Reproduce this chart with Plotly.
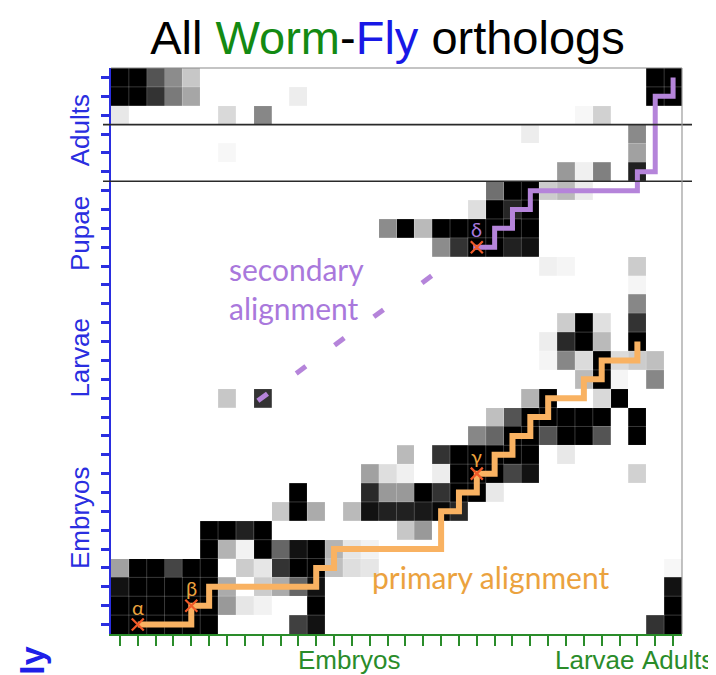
import numpy as np
import plotly.graph_objects as go

# ---------------- data ----------------
N_ROWS, N_COLS = 30, 32          # fly stages (rows, top = latest), worm stages (cols)

# per-row (top to bottom) columns with signal and their intensity (0 = white, 1 = black)
row_cols = [
    [0, 1, 2, 3, 4, 30, 31],
    [0, 1, 2, 3, 4, 10, 30, 31],
    [0, 6, 8, 26, 27],
    [23, 29],
    [6, 29],
    [25, 26, 27, 29],
    [21, 22, 23, 24, 25, 26],
    [20, 21, 22, 23],
    [15, 16, 17, 18, 19, 20, 21, 22, 23],
    [18, 19, 20, 21, 22, 23],
    [24, 25, 29],
    [29],
    [29],
    [25, 26, 27, 29],
    [24, 25, 26, 27, 29],
    [24, 25, 26, 27, 28, 29, 30],
    [26, 27, 28, 30],
    [6, 8, 23, 24, 27, 28],
    [21, 22, 23, 24, 25, 26, 27, 29],
    [20, 21, 22, 23, 24, 25, 26, 27, 29],
    [16, 18, 19, 20, 21, 22, 23, 25],
    [14, 15, 16, 18, 19, 20, 21, 22, 23, 29],
    [10, 14, 15, 16, 17, 18, 19, 20, 21],
    [9, 10, 11, 13, 14, 15, 16, 17, 18, 19],
    [5, 6, 7, 8, 16, 17],
    [5, 6, 7, 8, 9, 10, 11, 12, 13, 14],
    [0, 1, 2, 3, 4, 5, 7, 8, 9, 10, 11, 12, 13, 14, 31],
    [0, 1, 2, 3, 4, 5, 6, 8, 9, 10, 11, 31],
    [0, 1, 2, 3, 4, 5, 6, 7, 8, 11, 31],
    [0, 1, 2, 3, 4, 5, 10, 11, 30, 31],
]
row_vals = [
    [1, 1, .67, .45, .22, 1, 1],
    [1, 1, .8, .52, .35, .07, 1, 1],
    [.09, .15, .47, .03, .18],
    [.07, .46],
    [.03, .37],
    [.4, .06, .5, .87],
    [.56, 1, 1, .2, .27, .08],
    [.13, 1, .85, 1],
    [.45, 1, .27, 1, 1, 1, 1, 1, 1],
    [.45, .8, 1, 1, .87, .93],
    [.06, .04, .2],
    [.04],
    [.47],
    [.2, 1, .12, .8],
    [.07, .84, 1, .27, 1],
    [.04, .47, .14, 1, .14, .2, .25],
    [.27, 1, .04, .47],
    [.22, .8, .3, 1, .15, 1],
    [.25, .67, 1, 1, 1, 1, 1, 1],
    [.47, .6, 1, 1, .67, 1, 1, .67, 1],
    [.27, .8, 1, 1, 1, 1, 1, .09],
    [.37, .13, .06, .07, 1, 1, 1, .73, .93, .18],
    [1, .84, .4, .4, 1, .8, 1, 1, .09],
    [.22, 1, .33, .27, .93, .87, .87, .9, .97, .85],
    [1, 1, .87, 1, .22, .4],
    [1, .3, .05, 1, .6, .93, 1, .3, .1, .05],
    [.37, 1, 1, .73, 1, 1, .2, .1, .8, 1, 1, .25, .13, .1, .03],
    [.93, 1, 1, 1, 1, 1, .33, .2, .33, .6, .93, .93],
    [1, 1, 1, 1, 1, 1, .4, .1, .05, 1, 1],
    [1, 1, 1, 1, 1, 1, .75, .93, .8, 1],
]

# alignment paths (worm col, fly row from top)
primary_x = [1, 4, 4, 5, 5, 11, 11, 12, 12, 18, 18, 19, 19, 20, 20, 21, 21, 22, 22, 23, 23, 24, 24, 26, 26, 27, 27, 29, 29]
primary_y = [29, 29, 28, 28, 27, 27, 26, 26, 25, 25, 23, 23, 22, 22, 21, 21, 20, 20, 19, 19, 18, 18, 17, 17, 16, 16, 15, 15, 14]
secondary_x = [19.8, 21, 21, 22, 22, 23, 23, 29, 29, 30, 30, 31, 31]
secondary_y = [9, 9, 8, 8, 7, 7, 6, 6, 5, 5, 1, 1, 0]
# dashed continuation of the secondary alignment (dash centres)
dash_x = [8.0, 10.15, 12.3, 14.5, 17.2]
dash_y = [16.95, 15.5, 14.0, 12.5, 10.7]

# anchor points
anchor_labels = ["α", "β", "γ", "δ"]
anchor_x = [1, 4, 20, 20]
anchor_y = [29, 28, 21, 9]

# stage group labels
fly_groups = ["Adults", "Pupae", "Larvae", "Embryos"]
fly_group_pos = [2.8, 8.25, 14.85, 23.3]
worm_groups = ["Embryos", "Larvae", "Adults"]
worm_group_pos = [12.87, 26.6, 31.3]
separator_rows = [2.5, 5.5]

# ---------------- build ----------------
z = np.zeros((N_ROWS, N_COLS))
for r, (cs, vs) in enumerate(zip(row_cols, row_vals)):
    for c, v in zip(cs, vs):
        z[r, c] = v

BLUE = "#2a2ee0"
GREEN = "#2a8c2a"
ORANGE = "#f9b262"
ORANGE_TXT = "#eba23e"
PURPLE = "#b584da"
PURPLE_TXT = "#a978dc"
XRED = "#f05a28"
FONT = "Liberation Sans, Arial, sans-serif"
TXT_FONT = "Lato, Open Sans, sans-serif"

fig = go.Figure()
fig.add_trace(go.Heatmap(
    z=z, x=list(range(N_COLS)), y=list(range(N_ROWS)),
    colorscale=[[0, "#ffffff"], [1, "#000000"]], zmin=0, zmax=1,
    showscale=False, hoverinfo="skip"))

# faint cell separators (only visible over dark cells)
gx, gy = [], []
for k in range(1, N_COLS):
    gx += [k - 0.5, k - 0.5, None]
    gy += [-0.5, N_ROWS - 0.5, None]
for k in range(1, N_ROWS):
    gx += [-0.5, N_COLS - 0.5, None]
    gy += [k - 0.5, k - 0.5, None]
fig.add_trace(go.Scatter(x=gx, y=gy, mode="lines",
                         line=dict(color="rgba(255,255,255,0.22)", width=1),
                         hoverinfo="skip", showlegend=False))

# alignment lines
fig.add_trace(go.Scatter(x=primary_x, y=primary_y, mode="lines",
                         line=dict(color=ORANGE, width=6), showlegend=False, hoverinfo="skip"))
fig.add_trace(go.Scatter(x=secondary_x, y=secondary_y, mode="lines",
                         line=dict(color=PURPLE, width=5), showlegend=False, hoverinfo="skip"))
dx, dy = 0.27, -0.19
sx, sy = [], []
for cx, cy in zip(dash_x, dash_y):
    sx += [cx - dx, cx + dx, None]
    sy += [cy - dy, cy + dy, None]
fig.add_trace(go.Scatter(x=sx, y=sy, mode="lines",
                         line=dict(color=PURPLE, width=5), showlegend=False, hoverinfo="skip"))

# anchor crosses
fig.add_trace(go.Scatter(x=anchor_x, y=anchor_y, mode="markers",
                         marker=dict(symbol="x-thin", size=12, line=dict(color=XRED, width=2.2)),
                         showlegend=False, hoverinfo="skip"))
for lab, ax_, ay_ in zip(anchor_labels, anchor_x, anchor_y):
    fig.add_annotation(x=ax_, y=ay_ - 0.95, text=lab, showarrow=False,
                       font=dict(family=TXT_FONT, size=20, color=PURPLE_TXT if lab == "δ" else ORANGE_TXT),
                       xanchor="center", yanchor="middle")

# text labels for alignments
fig.add_annotation(x=6.0, y=11.2, text="secondary<br>alignment", showarrow=False, align="left",
                   xanchor="left", yanchor="middle",
                   font=dict(family=TXT_FONT, size=30, color=PURPLE_TXT))
fig.add_annotation(x=14.0, y=26.5, text="primary alignment", showarrow=False,
                   xanchor="left", yanchor="middle",
                   font=dict(family=TXT_FONT, size=30, color=ORANGE_TXT))

# stage group labels
for lab, pos in zip(fly_groups, fly_group_pos):
    fig.add_annotation(x=-0.0543, xref="paper", y=pos, yref="y", text=lab, textangle=-90,
                       showarrow=False, xanchor="center", yanchor="middle",
                       font=dict(family=FONT, size=26, color=BLUE))
for lab, pos in zip(worm_groups, worm_group_pos):
    fig.add_annotation(x=pos, xref="x", y=-0.046, yref="paper", text=lab,
                       showarrow=False, xanchor="center", yanchor="middle",
                       font=dict(family=FONT, size=26, color=GREEN))

# clipped rotated axis title at bottom-left
fig.add_annotation(x=-0.138, xref="paper", y=-0.019, yref="paper", text="<b>Fly</b>", textangle=-90,
                   showarrow=False, xanchor="center", yanchor="top",
                   font=dict(family=FONT, size=34, color="#1f1fe8"))

# separators & frame
for yv in separator_rows:
    fig.add_shape(type="line", xref="paper", yref="y", x0=-0.014, x1=1.0175, y0=yv, y1=yv,
                  line=dict(color="#2a2a2a", width=1.6))
fig.add_shape(type="line", xref="paper", yref="paper", x0=0, x1=1, y0=1, y1=1,
              line=dict(color="#8a8a8a", width=1.2))
fig.add_shape(type="line", xref="paper", yref="paper", x0=1, x1=1, y0=0, y1=1,
              line=dict(color="#9a9a9a", width=1.2))

# the page body adds an 8px margin, so the figure is 8px smaller than the window
fig.update_layout(
    width=708, height=667,
    margin=dict(l=103, r=34, t=60, b=41),
    paper_bgcolor="white", plot_bgcolor="white",
    showlegend=False,
    title=dict(
        text="All <span style='color:#138a13'>Worm</span>-<span style='color:#1818e6'>Fly</span> orthologs",
        x=379.5 / 708, xanchor="center", y=1 - 30 / 667, yanchor="middle", yref="container",
        font=dict(family=FONT, size=47, color="black")),
    xaxis=dict(range=[-0.5, N_COLS - 0.5], tickvals=list(range(N_COLS)), showticklabels=False,
               ticks="outside", ticklen=10, tickwidth=2, tickcolor=GREEN,
               showline=True, linecolor=GREEN, linewidth=2, showgrid=False, zeroline=False,
               layer="above traces"),
    yaxis=dict(range=[N_ROWS - 0.5, -0.5], tickvals=list(range(N_ROWS)), showticklabels=False,
               ticks="outside", ticklen=8, tickwidth=2.5, tickcolor=BLUE,
               showline=True, linecolor=BLUE, linewidth=2, showgrid=False, zeroline=False,
               layer="above traces"),
)

fig.write_html("out.html")
